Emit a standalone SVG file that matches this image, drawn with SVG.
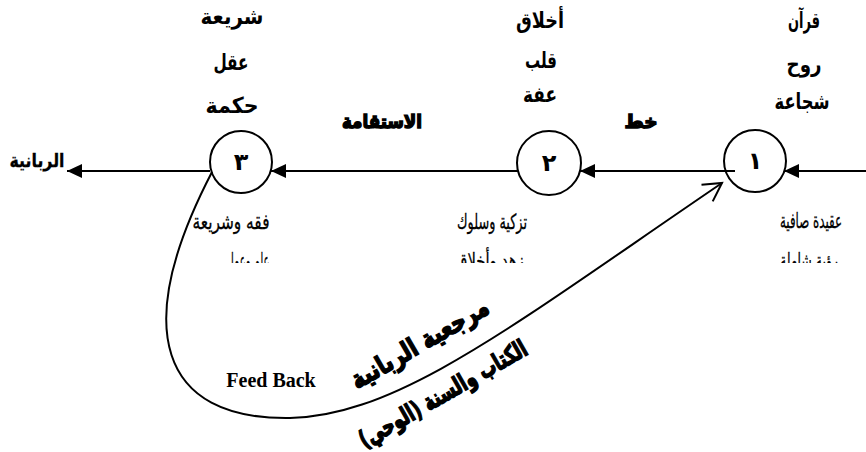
<svg xmlns="http://www.w3.org/2000/svg" width="866" height="452" viewBox="0 0 866 452">
<style>
.node circle{fill:none;stroke:#000;stroke-width:2}
.num{font-family:"DejaVu Sans",sans-serif;font-weight:bold;font-size:24px;text-anchor:middle}
.top{font-family:"DejaVu Sans",sans-serif;font-weight:bold;font-size:22px;text-anchor:middle}
.sub{font-family:"DejaVu Sans",sans-serif;font-size:21px;text-anchor:middle;stroke:#000;stroke-width:0.3}
.heavy{font-family:"DejaVu Sans",sans-serif;font-weight:bold;font-size:19px;text-anchor:middle;stroke:#000;stroke-width:1.5}
.edge{stroke:#000;stroke-width:2;fill:none}
.en{font-family:"Liberation Serif",serif;font-weight:bold;font-size:20px;text-anchor:middle}
</style>
<defs>
<marker id="solid" markerUnits="userSpaceOnUse" markerWidth="16" markerHeight="16" viewBox="-15 -8 16 16" refX="0" refY="0" orient="auto">
<path d="M0,0 L-15,-7 L-15,7 Z" fill="#000"/>
</marker>
<marker id="open" markerUnits="userSpaceOnUse" markerWidth="24" markerHeight="24" viewBox="-20 -12 22 24" refX="0" refY="0" orient="auto">
<path d="M-18,-10 L0,0 L-18,10" fill="none" stroke="#000" stroke-width="2"/>
</marker>
<clipPath id="cut"><rect x="0" y="0" width="866" height="263"/></clipPath>
</defs>

<!-- flow connectors -->
<g id="connectors">
<line class="edge" x1="866" y1="171" x2="784" y2="171" marker-end="url(#solid)"/>
<line class="edge" x1="735" y1="171" x2="580" y2="171" marker-end="url(#solid)"/>
<line class="edge" x1="518" y1="171" x2="271" y2="171" marker-end="url(#solid)"/>
<line class="edge" x1="210" y1="171" x2="67" y2="171" marker-end="url(#solid)"/>
<path class="edge" d="M212,172 C130,330 160,420 290,418 C400,416 520,320 722,183" marker-end="url(#open)"/>
</g>

<!-- stage 1 -->
<g id="stage1" class="node">
<circle cx="755" cy="161" r="31"/>
<text class="num" x="755" y="169">١</text>
<text class="top" x="804" y="28" textLength="32" lengthAdjust="spacingAndGlyphs">قرآن</text>
<text class="top" x="804" y="72" textLength="35" lengthAdjust="spacingAndGlyphs">روح</text>
<text class="top" x="802" y="109" textLength="55" lengthAdjust="spacingAndGlyphs">شجاعة</text>
<text class="sub" x="811" y="228" textLength="62" lengthAdjust="spacingAndGlyphs">عقيدة صافية</text>
<text class="sub" x="809" y="268" textLength="58" lengthAdjust="spacingAndGlyphs" clip-path="url(#cut)">رؤية شاملة</text>
</g>

<!-- stage 2 -->
<g id="stage2" class="node">
<circle cx="549" cy="163" r="32"/>
<text class="num" x="549" y="171">٢</text>
<text class="top" x="540" y="28" textLength="48" lengthAdjust="spacingAndGlyphs">أخلاق</text>
<text class="top" x="541" y="68" textLength="32" lengthAdjust="spacingAndGlyphs">قلب</text>
<text class="top" x="540" y="102" textLength="34" lengthAdjust="spacingAndGlyphs">عفة</text>
<text class="sub" x="492" y="229" textLength="70" lengthAdjust="spacingAndGlyphs">تزكية وسلوك</text>
<text class="sub" x="490" y="268" textLength="68" lengthAdjust="spacingAndGlyphs" clip-path="url(#cut)">زهد وأخلاق</text>
</g>

<!-- stage 3 -->
<g id="stage3" class="node">
<circle cx="241" cy="162" r="31"/>
<text class="num" x="241" y="170">٣</text>
<text class="top" x="232" y="24" textLength="63" lengthAdjust="spacingAndGlyphs">شريعة</text>
<text class="top" x="231" y="70" textLength="35" lengthAdjust="spacingAndGlyphs">عقل</text>
<text class="top" x="232" y="113" textLength="53" lengthAdjust="spacingAndGlyphs">حكمة</text>
<text class="sub" x="231" y="229" textLength="77" lengthAdjust="spacingAndGlyphs">فقه وشريعة</text>
<text class="sub" x="248" y="268" textLength="43" lengthAdjust="spacingAndGlyphs" clip-path="url(#cut)">علم وعمل</text>
</g>

<!-- outcome -->
<g id="outcome">
<text class="sub" style="font-weight:bold;font-size:19px" x="37" y="167" textLength="55" lengthAdjust="spacingAndGlyphs">الربانية</text>
</g>

<!-- labels along the path -->
<g id="labels">
<text class="heavy" x="382" y="128" textLength="80" lengthAdjust="spacingAndGlyphs">الاستقامة</text>
<text class="heavy" x="641" y="128" textLength="33" lengthAdjust="spacingAndGlyphs">خط</text>
<text class="en" x="271" y="387">Feed Back</text>
<text class="heavy" style="font-size:26px" transform="translate(424,351) rotate(-30)" textLength="155" lengthAdjust="spacingAndGlyphs">مرجعية الربانية</text>
<text class="heavy" style="font-size:24px" transform="translate(447,401) rotate(-30)" textLength="190" lengthAdjust="spacingAndGlyphs">الكتاب والسنة (الوحي)</text>
</g>
</svg>
